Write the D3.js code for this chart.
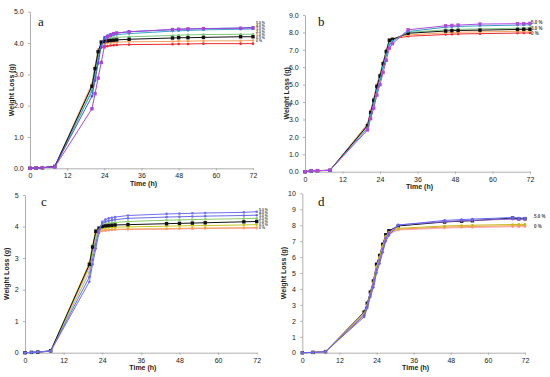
<!DOCTYPE html>
<html>
<head>
<meta charset="utf-8">
<script src="https://cdn.jsdelivr.net/npm/d3@7"></script>
<style>
  body { margin: 0; background: #fff; }
  svg { display: block; }
  .tick text { font-family: "Liberation Sans", Arial, sans-serif; }
</style>
</head>
<body>
<div id="figure-holder"></div>
<script>
// ---- panel a ----
const timeA = [0, 2, 4, 8, 20, 21, 22, 23, 24, 25, 26, 27, 28, 32, 46, 48, 51, 56, 68, 72]
const aPurple = [0, 0.01, 0.02, 0.04, 1.9, 2.38, 2.88, 3.38, 3.88, 4.2, 4.25, 4.3, 4.32, 4.36, 4.43, 4.44, 4.45, 4.46, 4.47, 4.48]
const aBlue = [0, 0.01, 0.02, 0.05, 2.3, 2.8, 3.35, 3.9, 4.18, 4.24, 4.28, 4.3, 4.32, 4.36, 4.43, 4.44, 4.45, 4.46, 4.48, 4.5]
const aTeal = [0, 0.01, 0.02, 0.05, 2.45, 2.95, 3.5, 3.95, 4.12, 4.18, 4.22, 4.25, 4.27, 4.3, 4.38, 4.39, 4.4, 4.42, 4.44, 4.45]
const aGreen = [0, 0.01, 0.02, 0.05, 2.5, 3.05, 3.6, 4.0, 4.08, 4.12, 4.15, 4.17, 4.18, 4.2, 4.24, 4.25, 4.26, 4.27, 4.28, 4.28]
const aBlack = [0, 0.01, 0.02, 0.06, 2.62, 3.18, 3.72, 4.03, 4.05, 4.07, 4.08, 4.09, 4.1, 4.12, 4.16, 4.17, 4.17, 4.18, 4.2, 4.2]
const aOrange = [0, 0.01, 0.02, 0.05, 2.7, 3.25, 3.8, 3.95, 3.98, 4.0, 4.01, 4.02, 4.03, 4.04, 4.05, 4.06, 4.06, 4.07, 4.07, 4.08]
const aRed = [0, 0.01, 0.02, 0.05, 2.65, 3.2, 3.75, 3.85, 3.88, 3.9, 3.92, 3.93, 3.94, 3.95, 3.96, 3.97, 3.97, 3.98, 3.98, 3.98]
const labelsA = ['5.0 %', '4.0 %', '3.0 %', '2.0 %', '1.0 %', '0.5 %', '0 %']

// ---- panel b ----
const timeB = [0, 2, 4, 8, 20, 21, 22, 23, 24, 25, 26, 27, 28, 33, 45, 47, 49, 56, 68, 70, 72]
const bPurple = [0, 0.05, 0.06, 0.08, 2.4, 3.05, 3.65, 4.4, 5.0, 5.7, 6.4, 7.1, 7.35, 8.15, 8.38, 8.4, 8.42, 8.48, 8.5, 8.5, 8.52]
const bBlue = [0, 0.05, 0.06, 0.08, 2.5, 3.25, 3.9, 4.65, 5.3, 6.0, 6.7, 7.3, 7.5, 8.05, 8.3, 8.32, 8.34, 8.38, 8.42, 8.43, 8.44]
const bGreen = [0, 0.05, 0.06, 0.08, 2.6, 3.35, 4.05, 4.8, 5.45, 6.15, 6.85, 7.45, 7.55, 8.0, 8.15, 8.17, 8.18, 8.2, 8.24, 8.25, 8.26]
const bBlack = [0, 0.05, 0.06, 0.08, 2.65, 3.4, 4.1, 4.9, 5.5, 6.2, 6.9, 7.55, 7.6, 7.95, 8.08, 8.1, 8.11, 8.13, 8.17, 8.18, 8.18]
const bOrange = [0, 0.05, 0.06, 0.08, 2.75, 3.5, 4.2, 5.0, 5.6, 6.3, 7.0, 7.6, 7.65, 7.85, 7.98, 8.0, 8.01, 8.03, 8.06, 8.07, 8.08]
const bRed = [0, 0.05, 0.06, 0.08, 2.7, 3.45, 4.15, 4.95, 5.55, 6.25, 6.95, 7.55, 7.62, 7.78, 7.88, 7.9, 7.91, 7.93, 7.96, 7.97, 7.97]
const labelsB = ['5.0 %', '3.0 %', '0 %']

// ---- panel c ----
const timeC = [0, 2, 4, 8, 20, 21, 22, 23, 24, 25, 26, 27, 28, 32, 44, 48, 52, 56, 68, 72]
const cBlue1 = [0, 0.01, 0.02, 0.05, 2.25, 2.8, 3.3, 3.8, 4.15, 4.22, 4.26, 4.28, 4.3, 4.35, 4.4, 4.41, 4.42, 4.43, 4.45, 4.47]
const cBlue2 = [0, 0.01, 0.02, 0.05, 2.4, 2.95, 3.45, 3.9, 4.1, 4.15, 4.18, 4.2, 4.22, 4.26, 4.3, 4.31, 4.32, 4.33, 4.35, 4.36]
const cGreen = [0, 0.01, 0.02, 0.05, 2.55, 3.1, 3.6, 3.95, 4.05, 4.08, 4.1, 4.12, 4.13, 4.16, 4.2, 4.21, 4.22, 4.23, 4.25, 4.26]
const cBlack = [0, 0.01, 0.02, 0.06, 2.8, 3.35, 3.85, 3.95, 4.0, 4.02, 4.03, 4.04, 4.05, 4.06, 4.09, 4.1, 4.11, 4.12, 4.15, 4.16]
const cOlive = [0, 0.01, 0.02, 0.05, 2.85, 3.4, 3.9, 3.92, 3.95, 3.96, 3.97, 3.98, 3.98, 3.99, 4.01, 4.02, 4.03, 4.03, 4.05, 4.06]
const cOrange = [0, 0.01, 0.02, 0.05, 2.75, 3.3, 3.8, 3.85, 3.88, 3.89, 3.9, 3.91, 3.91, 3.92, 3.93, 3.94, 3.95, 3.95, 3.96, 3.97]
const cPink = [0, 0.01, 0.02, 0.05, 2.7, 3.25, 3.75, 3.82, 3.86, 3.87, 3.88, 3.89, 3.9, 3.91, 3.92, 3.93, 3.93, 3.94, 3.95, 3.95]
const labelsC = ['5.0 %', '4.0 %', '3.0 %', '2.0 %', '1.0 %', '0.5 %', '0 %']

// ---- panel d ----
const timeD = [0, 3.5, 7.5, 20, 21, 22, 23, 24, 25, 26, 27, 28, 31, 46, 51.5, 55, 68, 70, 72]
const dBlue = [0, 0.02, 0.06, 2.25, 2.8, 3.5, 4.1, 5.0, 5.6, 6.3, 7.0, 7.35, 8.0, 8.3, 8.35, 8.38, 8.48, 8.45, 8.45]
const dViolet = [0, 0.02, 0.06, 2.35, 2.95, 3.65, 4.3, 5.2, 5.8, 6.5, 7.2, 7.5, 8.02, 8.22, 8.28, 8.3, 8.38, 8.36, 8.36]
const dBlack = [0, 0.02, 0.07, 2.55, 3.1, 3.8, 4.5, 5.55, 6.1, 6.8, 7.4, 7.65, 7.95, 8.2, 8.25, 8.28, 8.45, 8.4, 8.4]
const dYellow = [0, 0.02, 0.06, 2.45, 3.0, 3.7, 4.4, 5.4, 6.0, 6.7, 7.3, 7.55, 7.8, 7.95, 7.98, 8.0, 8.04, 8.05, 8.05]
const dOrange = [0, 0.02, 0.06, 2.4, 2.95, 3.65, 4.35, 5.35, 5.95, 6.65, 7.25, 7.5, 7.75, 7.88, 7.9, 7.92, 7.96, 7.97, 7.98]
const dPink = [0, 0.02, 0.06, 2.35, 2.9, 3.6, 4.3, 5.3, 5.9, 6.6, 7.2, 7.45, 7.7, 7.82, 7.85, 7.86, 7.9, 7.9, 7.9]
const labelsD = ['5.0 %', '0 %']

const xTicks = [0, 12, 24, 36, 48, 60, 72]

const panels = [
    { id: 'a', x0: 30, x1: 253, yTop: 11.7, yBot: 168.3, yMax: 5, fmt: '.1f', time: timeA,
      series: [
        { v: aRed, color: '#f0282d', mark: 'circle' },
        { v: aOrange, color: '#f7a35c', mark: 'circle' },
        { v: aGreen, color: '#7fc97f', mark: 'circle' },
        { v: aTeal, color: '#35a8c8', mark: 'circle' },
        { v: aBlack, color: '#111', mark: 'square' },
        { v: aBlue, color: '#3d5bd6', mark: 'circle' },
        { v: aPurple, color: '#a846d8', mark: 'square' }
      ],
      labels: labelsA, labelX: 256, labelY: 24, labelStep: 3.0, letter: [38, 26] },
    { id: 'b', x0: 305, x1: 530, yTop: 15, yBot: 171.7, yMax: 9, fmt: '.1f', time: timeB,
      series: [
        { v: bRed, color: '#f0282d', mark: 'circle' },
        { v: bOrange, color: '#f7a35c', mark: 'circle' },
        { v: bGreen, color: '#7fc97f', mark: 'circle' },
        { v: bBlack, color: '#111', mark: 'square' },
        { v: bBlue, color: '#2f9fc0', mark: 'circle' },
        { v: bPurple, color: '#b04be0', mark: 'square' }
      ],
      labels: labelsB, labelX: 531, labelY: 24, labelStep: 5.5, letter: [318, 26] },
    { id: 'c', x0: 25, x1: 256.7, yTop: 195, yBot: 352.7, yMax: 5, fmt: 'd', time: timeC,
      series: [
        { v: cPink, color: '#ff8fb0', mark: 'circle' },
        { v: cOrange, color: '#f5a64a', mark: 'circle' },
        { v: cOlive, color: '#c8c820', mark: 'circle' },
        { v: cGreen, color: '#8acb6a', mark: 'circle' },
        { v: cBlack, color: '#111', mark: 'square' },
        { v: cBlue2, color: '#6b6be8', mark: 'circle' },
        { v: cBlue1, color: '#7070f0', mark: 'circle' }
      ],
      labels: labelsC, labelX: 259, labelY: 211, labelStep: 3.0, letter: [41, 206] },
    { id: 'd', x0: 302.3, x1: 525, yTop: 193.3, yBot: 352.7, yMax: 10, fmt: 'd', time: timeD,
      series: [
        { v: dBlack, color: '#111', mark: 'square' },
        { v: dPink, color: '#ff9cc0', mark: 'circle' },
        { v: dOrange, color: '#f0a040', mark: 'circle' },
        { v: dYellow, color: '#c8b820', mark: 'circle' },
        { v: dViolet, color: '#8a5ad8', mark: 'circle' },
        { v: dBlue, color: '#6666ee', mark: 'circle' }
      ],
      labels: labelsD, labelX: 534, labelY: 218, labelStep: 10, letter: [318, 206] }
]

const svg = d3.select('#figure-holder').append('svg')
    .attr('width', 550)
    .attr('height', 377)

panels.forEach(p => {
    const g = svg.append('g').attr('id', 'panel-' + p.id)

    const x = d3.scaleLinear().domain([0, 72]).range([p.x0, p.x1])
    const y = d3.scaleLinear().domain([0, p.yMax]).range([p.yBot, p.yTop])

    // axes
    const xAxis = g.append('g')
        .attr('transform', `translate(0, ${p.yBot})`)
        .call(d3.axisBottom(x).tickValues(xTicks).tickSize(2).tickSizeOuter(0))
    const yAxis = g.append('g')
        .attr('transform', `translate(${p.x0}, 0)`)
        .call(d3.axisLeft(y).ticks(p.yMax).tickFormat(d3.format(p.fmt)).tickSize(2).tickSizeOuter(0))

    g.selectAll('.domain, .tick line').attr('stroke', '#9a9a9a').attr('stroke-width', 0.8)
    xAxis.selectAll('text').style('font-size', '7px').attr('fill', '#222')
    yAxis.selectAll('text').style('font-size', '7px').attr('fill', '#222').attr('dx', '-0.2em')

    // axis titles
    g.append('text')
        .text('Time (h)')
        .attr('x', (p.x0 + p.x1) / 2 + 2)
        .attr('y', p.yBot + 17.5)
        .attr('text-anchor', 'middle')
        .style('font-family', '"Liberation Sans", Arial, sans-serif')
        .style('font-weight', 'bold')
        .style('font-size', '7px')
        .attr('fill', '#222')
    g.append('text')
        .text('Weight Loss (g)')
        .attr('transform', `translate(${p.x0 - 16}, ${(p.yTop + p.yBot) / 2}) rotate(-90)`)
        .attr('text-anchor', 'middle')
        .style('font-family', '"Liberation Sans", Arial, sans-serif')
        .style('font-weight', 'bold')
        .style('font-size', '7px')
        .attr('fill', '#222')

    // lines and markers
    const line = d3.line().x((d, i) => x(p.time[i])).y(d => y(d))
    p.series.forEach(s => {
        g.append('path')
            .datum(s.v)
            .attr('d', line)
            .attr('fill', 'none')
            .attr('stroke', s.color)
            .attr('stroke-width', 1)
        if (s.mark === 'square') {
            g.selectAll(null).data(s.v).enter().append('rect')
                .attr('x', (d, i) => x(p.time[i]) - 1.7)
                .attr('y', d => y(d) - 1.7)
                .attr('width', 3.4)
                .attr('height', 3.4)
                .attr('fill', s.color)
        } else {
            g.selectAll(null).data(s.v).enter().append('circle')
                .attr('cx', (d, i) => x(p.time[i]))
                .attr('cy', d => y(d))
                .attr('r', 1.3)
                .attr('fill', s.color)
        }
    })

    // series labels at the right end
    g.selectAll(null).data(p.labels).enter().append('text')
        .text(d => d)
        .attr('x', p.labelX)
        .attr('y', (d, i) => p.labelY + i * p.labelStep)
        .style('font-family', '"Liberation Sans", Arial, sans-serif')
        .style('font-weight', 'bold')
        .style('font-size', p.labelStep < 4 ? '3.5px' : '4.5px')
        .attr('fill', '#444')

    // panel letter
    g.append('text')
        .text(p.id)
        .attr('x', p.letter[0])
        .attr('y', p.letter[1])
        .style('font-family', '"Liberation Serif", "Times New Roman", serif')
        .style('font-size', '13px')
        .attr('fill', '#111')
})
</script>
</body>
</html>
